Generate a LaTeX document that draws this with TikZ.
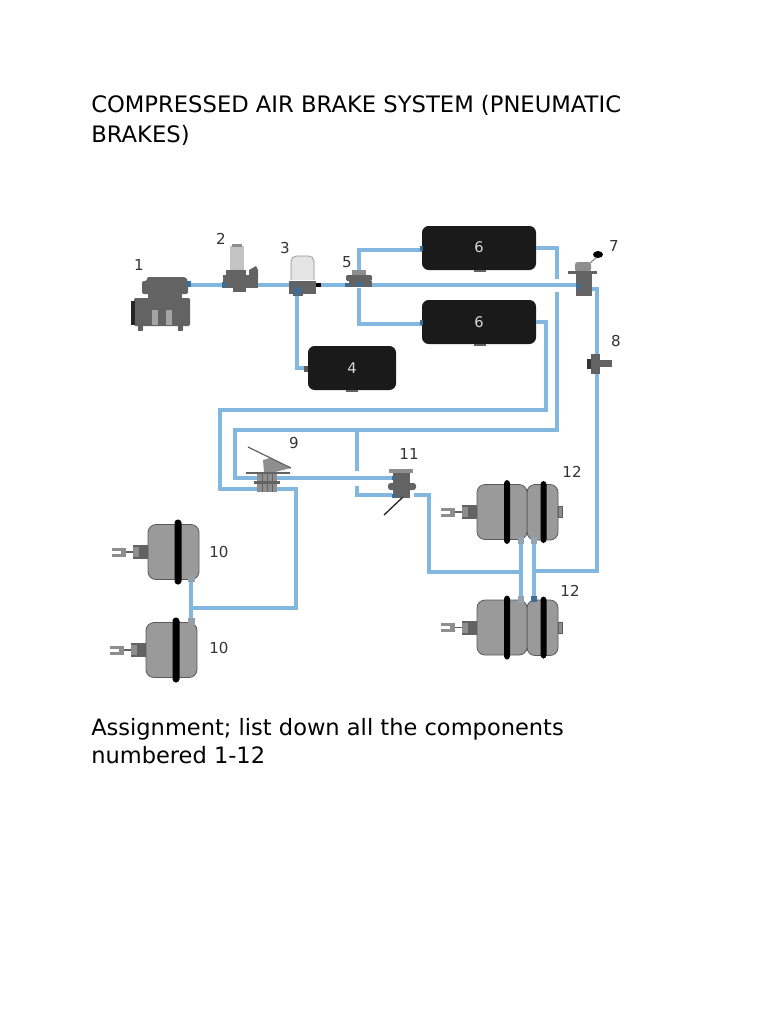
\documentclass[tikz,border=0pt]{standalone}
\usepackage{fontspec}
\setmainfont{DejaVu Sans}
\definecolor{pipe}{HTML}{82B8DF}
\definecolor{tankblack}{HTML}{1A1A1A}
\definecolor{steel}{HTML}{9A9A9A}
\definecolor{steeledge}{HTML}{5A5A5A}
\definecolor{valve}{HTML}{636363}
\definecolor{valvelight}{HTML}{8E8E8E}
\definecolor{glass}{HTML}{D9D9D9}
\definecolor{portblue}{HTML}{3E6E96}
\tikzset{
  x=0.75pt,y=-0.75pt,
  pipeline/.style={draw=pipe,line width=3.6pt,line join=miter},
  pipethin/.style={draw=pipe,line width=2.6pt,line join=miter},
  tank/.style={fill=tankblack,rounded corners=5pt,text=white!85!black,minimum width=85.5pt,minimum height=33pt,inner sep=0pt,font=\fontsize{11}{13}\selectfont},
  tanksmall/.style={tank,minimum width=66pt},
  numlabel/.style={text=black!80,font=\fontsize{11.3}{13}\selectfont,inner sep=0pt},
  bodytext/.style={anchor=north west,align=left,inner sep=0pt,text=black},
  vbody/.style={fill=valve,draw=none},
  vlight/.style={fill=valvelight,draw=none},
  port/.style={fill=portblue,draw=none},
  pics/forkpart/.style={code={
    \fill[valve] (-15,-7) rectangle (0,7);
    \fill[valvelight] (-15,-5) rectangle (-9,5);
    \draw[valve,line width=1pt] (-22,0) -- (-15,0);
    \fill[valvelight] (-36,-4.5) rectangle (-24,-1.5);
    \fill[valvelight] (-36,1.5) rectangle (-24,4.5);
    \fill[valvelight] (-27,-4.5) rectangle (-22,4.5);
  }},
  pics/brakeone/.style={code={
    \pic at (0,0) {forkpart};
    \filldraw[fill=steel,draw=steeledge,line width=.6pt,rounded corners=6pt] (0,-27.5) rectangle (51,27.5);
    \fill[black,rounded corners=2.5pt] (26.5,-32.5) rectangle (33.5,32.5);
  }},
  pics/braketwo/.style={code={
    \pic at (0,0) {forkpart};
    \filldraw[fill=valvelight,draw=steeledge,line width=.5pt] (81,-5.5) rectangle (85,5.5);
    \filldraw[fill=steel,draw=steeledge,line width=.6pt,rounded corners=6pt] (50,-27.5) rectangle (81,28);
    \filldraw[fill=steel,draw=steeledge,line width=.6pt,rounded corners=6pt] (0,-27.5) rectangle (50,27.5);
    \fill[black,rounded corners=2.5pt] (27,-32) rectangle (33,32);
    \fill[black,rounded corners=2.5pt] (63.5,-31) rectangle (69.5,31);
  }},
}
\begin{document}
\begin{tikzpicture}
\useasboundingbox (0,0) rectangle (768,1024);
\fill[white] (0,0) rectangle (768,1024);

% text
\node[bodytext,font=\fontsize{17}{22.5pt}\selectfont] (title) at (91,95.5) {COMPRESSED AIR BRAKE SYSTEM (PNEUMATIC\\BRAKES)};
\node[bodytext,font=\fontsize{16.9}{21pt}\selectfont] (assign) at (91,718.5) {Assignment; list down all the components\\numbered 1-12};

% tanks
\node[tank] (tankA) at (479,248) {\raisebox{2pt}{6}};
\node[tank] (tankB) at (479,322) {\raisebox{.5pt}{6}};
\node[tanksmall] (tankC) at (352,368) {4};

% ports
\coordinate (compOut) at (188,285);
\coordinate (dryerIn) at (225,285);
\coordinate (dryerOut) at (258,285);
\coordinate (sepIn) at (290,285);
\coordinate (sepOut) at (318,285);
\coordinate (sepDown) at (297,290);
\coordinate (protIn) at (346,285);
\coordinate (protOut) at (372,285);
\coordinate (protUp) at (359,276);
\coordinate (protDown) at (359,288);
\coordinate (handIn) at (578,285);
\coordinate (handOut) at (590,289);
\coordinate (gapTop) at (557,279);
\coordinate (gapLow) at (557,292);
\coordinate (innerCorner) at (235,430);
\coordinate (pedalIn) at (258,478);
\coordinate (pedalLowIn) at (258,489);
\coordinate (pedalOut) at (276,489);
\coordinate (relayIn) at (392,478);
\coordinate (relayLowIn) at (392,495);
\coordinate (relayOut) at (414,495);
\coordinate (branchTop) at (357,430);
\coordinate (branchEnd) at (357,471);
\coordinate (branchLow) at (357,486);
\coordinate (frontJoin) at (191,608);
\coordinate (frontA) at (191,578);
\coordinate (frontB) at (191,622);
\coordinate (rearA) at (521,540);
\coordinate (rearB) at (534,540);
\coordinate (rearC) at (521,598);
\coordinate (rearD) at (534,598);
\coordinate (rearLeftJoin) at (521,572);
\coordinate (rearRightJoin) at (534,571);

% pipes
\draw[pipeline] (compOut) -- (dryerIn);
\draw[pipeline] (dryerOut) -- (sepIn);
\draw[pipeline] (sepOut) -- (protIn);
\draw[pipeline] (protOut) -- (handIn);
\draw[pipeline] (sepDown) |- (tankC.west);
\draw[pipeline] (protUp) |- ([yshift=-1.5pt]tankA.west);
\draw[pipeline] (protDown) |- ([yshift=-1.5pt]tankB.west);
\draw[pipeline] (tankA.east) -| (gapTop);
\draw[pipeline] (gapLow) |- (innerCorner) |- (pedalIn);
\draw[pipethin] (pedalIn) -- (relayIn);
\draw[pipeline] (tankB.east) -| (546,410) -| (220,489) -- (pedalLowIn);
\draw[pipeline] (pedalOut) -| (296,608) -- (frontJoin);
\draw[pipethin] (frontA) -- (frontB);
\draw[pipeline] (branchTop) -- (branchEnd);
\draw[pipeline] (branchLow) |- (relayLowIn);
\draw[pipeline] (relayOut) -| (429,572) -- (rearLeftJoin);
\draw[pipethin] (rearA) -- (rearC);
\draw[pipethin] (rearB) -- (rearD);
\draw[pipeline] (handOut) -| (597,571) -- (rearRightJoin);

% tank ports
\fill[port] (420,246) rectangle (423,251);
\fill[port] (420,320) rectangle (423,325);
\fill[steeledge] (304,366) rectangle (308,372);
\fill[tankblack!70!white] (474,270) rectangle (486,271.5);
\fill[tankblack!70!white] (474,344) rectangle (486,345.5);
\fill[tankblack!70!white] (346,390) rectangle (358,391.5);

% 1 compressor
\fill[vbody] (148,293) rectangle (182,302);
\fill[vbody,rounded corners=1.5pt] (142,281) -- (147,281) -- (147,277) -- (186,277) -- (188,281) -- (188,294) -- (142,294) -- cycle;
\fill[vbody,rounded corners=1pt] (134,298) rectangle (190,326);
\fill[black!85] (131,301) rectangle (135,325);
\fill[valvelight!80!white] (152,310) rectangle (158,325);
\fill[valvelight!80!white] (166,310) rectangle (172,325);
\fill[vbody] (138,325) rectangle (143,331);
\fill[vbody] (178,325) rectangle (183,331);
\fill[port] (186,281) rectangle (191,287);

% 2 air dryer
\fill[glass!90!black] (230,246) rectangle (244,270);
\fill[valvelight] (232,244) rectangle (242,247);
\fill[vbody] (226,270) rectangle (246,275);
\fill[vbody] (223,275) rectangle (258,288);
\fill[vbody] (233,288) rectangle (246,292);
\fill[vbody] (249,275) -- (249,270) -- (256,266) -- (258,270) -- (258,278) -- cycle;
\fill[port] (222,282) rectangle (226,288);

% 3 separator
\filldraw[fill=glass!70!white,draw=valvelight,line width=.5pt,rounded corners=4pt] (291,280) -- (291,256) -- (314,256) -- (314,280);
\fill[vbody] (289,281) rectangle (316,294);
\fill[vbody] (293,294) rectangle (303,296);
\fill[black] (316,283) rectangle (321,287);
\fill[port] (294,287) rectangle (301,295);

% 5 protection valve
\fill[valvelight] (352,270) rectangle (366,275);
\fill[vbody,rounded corners=1pt] (346,275) rectangle (372,281);
\fill[vbody] (349,281) rectangle (372,287);
\fill[port] (345,283) rectangle (349,287);
\fill[port] (356,282) rectangle (362,287);

% 7 hand valve
\draw[valvelight,line width=.9pt] (590,263) -- (597,257);
\fill[black] (598,254.5) ellipse (5 and 3.5);
\fill[valvelight,rounded corners=2pt] (575,262) rectangle (591,272);
\fill[vbody] (568,271) rectangle (597,274);
\fill[vbody] (576,274) rectangle (592,296);
\fill[port] (576,284) rectangle (580,289);

% 8 valve
\fill[vbody] (591,354) rectangle (600,374);
\fill[black!80] (587,359) rectangle (591,369);
\fill[vbody] (600,360) rectangle (612,367);

% 9 foot brake valve
\fill[valvelight] (263,460) -- (270,458) -- (291,468) -- (275,472) -- (264,472) -- cycle;
\draw[valve,line width=.9pt] (248,447) -- (291,468);
\fill[valve] (246,471.5) rectangle (290,473.5);
\fill[valvelight] (257,473.5) rectangle (277,492);
\fill[valve] (254,481) rectangle (280,484);
\draw[valve,line width=.6pt] (262,473) -- (262,492) (267,473) -- (267,492) (272,473) -- (272,492);

% 11 relay/hand valve
\fill[valvelight] (389,468.5) rectangle (413,473);
\fill[valve] (393,473) rectangle (410,483);
\fill[valve,rounded corners=2pt] (388,483) rectangle (416,490);
\fill[valve] (393,490) rectangle (410,498);
\fill[port] (392,476) rectangle (395,480);
\fill[port] (392,494) rectangle (396,498);
\draw[black!85,line width=1pt] (403,497) -- (384,515);

% 10 and 12 chambers
\pic at (148,552) {brakeone};
\pic at (146,650) {brakeone};
\pic at (477,512) {braketwo};
\pic at (477,627.5) {braketwo};
\fill[steel!80!pipe] (188,575) rectangle (195,582);
\fill[steel!80!pipe] (188,618) rectangle (195,625);
\fill[steel!70!pipe] (518,537) rectangle (524,544);
\fill[steel!70!pipe] (531,537) rectangle (537,544);
\fill[steel!70!pipe] (518,596) rectangle (524,603);
\fill[port] (531,596) rectangle (537,602);

% numbers
\node[numlabel] (n1) at (139,265) {1};
\node[numlabel] (n2) at (221,239) {2};
\node[numlabel] (n3) at (285,248) {3};
\node[numlabel] (n5) at (347,262) {5};
\node[numlabel] (n7) at (614,246) {7};
\node[numlabel] (n8) at (616,341) {8};
\node[numlabel] (n9) at (294,443) {9};
\node[numlabel] (n10a) at (219,552) {10};
\node[numlabel] (n10b) at (219,648) {10};
\node[numlabel] (n11) at (409,454) {11};
\node[numlabel] (n12a) at (572,472) {12};
\node[numlabel] (n12b) at (570,591) {12};
\end{tikzpicture}
\end{document}
